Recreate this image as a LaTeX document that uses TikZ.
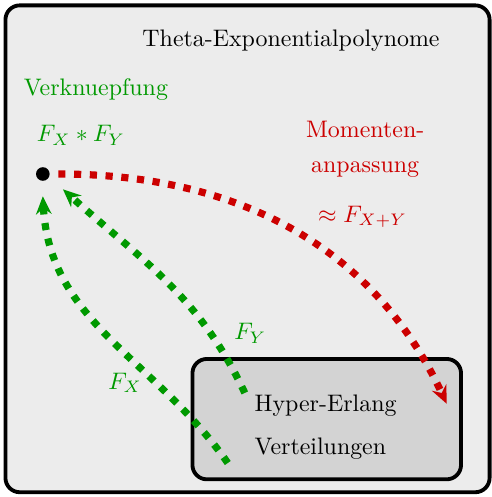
\documentclass[tikz,border=0pt]{standalone}
\usepackage{tikz}
\usetikzlibrary{arrows.meta,positioning,calc}
\definecolor{TeRed}{RGB}{204,0,0}
\definecolor{TeGreen}{RGB}{0,153,0}
\definecolor{TeLightGray}{RGB}{236,236,236}
\definecolor{TeMidGray}{RGB}{211,211,211}
\tikzset{
  te/frame/.style={
    draw=black,
    line width=1.6pt,
    rounded corners=6pt,
    fill=TeLightGray
  },
  te/box/.style={
    draw=black,
    line width=1.6pt,
    rounded corners=6pt,
    fill=TeMidGray
  },
  te/dot/.style={circle, fill=black, inner sep=0pt, minimum size=0.2cm},
  te/text/.style={font=\normalsize, text=black, anchor=west},
  te/greenlabel/.style={font=\normalsize, text=TeGreen, align=center},
  te/redlabel/.style={font=\normalsize, text=TeRed, align=center},
  te/greenarrow/.style={-{Stealth[length=7.5pt,width=6.5pt,inset=2.5pt]}, line width=3pt, dash pattern=on 3pt off 3.6pt, draw=TeGreen},
  te/redarrow/.style={-{Stealth[length=7.5pt,width=6.5pt,inset=2.5pt]}, line width=3pt, dash pattern=on 3pt off 3.6pt, draw=TeRed}
}
\begin{document}
\begin{tikzpicture}[x=1cm,y=1cm]
  \useasboundingbox (0,0) rectangle (7.235,7.309);
  \draw[te/frame] (0.08,0.07) rectangle (7.20,7.23);
  \draw[te/box] (2.83,0.26) rectangle (6.78,2.03);
  \node (title) at (4.28,6.71) {Theta-Exponentialpolynome};
  \node[te/text] (hyper) at (3.62,1.35) {Hyper-Erlang};
  \node[te/text] (vert) at (3.62,0.71) {Verteilungen};
  \node[te/greenlabel] (verkn) at (1.41,5.99) {Verknuepfung};
  \node[te/greenlabel] (conv) at (1.19,5.32) {$F_X * F_Y$};
  \node[te/dot] (dot) at (0.63,4.75) {};
  \node[te/redlabel] (mom) at (5.37,5.40) {Momenten-};
  \node[te/redlabel] (anp) at (5.37,4.81) {anpassung};
  \node[te/redlabel] (approx) at (5.33,4.12) {$\approx F_{X+Y}$};
  \node[te/greenlabel] (fy) at (3.68,2.41) {$F_Y$};
  \node[te/greenlabel] (fx) at (1.84,1.68) {$F_X$};
  % Startpunkte und Spitzen
  \coordinate (xstart) at (3.35,0.50);
  \coordinate (ystart) at (3.60,1.53);
  \coordinate (rtip) at (6.57,1.37);
  \draw[te/redarrow] (dot.east) ++(0.12,0) to[out=0,in=115] (rtip);
  \draw[te/greenarrow] (xstart) to[out=125,in=-87] ($(dot.south)+(0,-0.22)$);
  \draw[te/greenarrow] (ystart) to[out=115,in=-42] ($(dot.south east)+(0.22,-0.15)$);
\end{tikzpicture}
\end{document}
